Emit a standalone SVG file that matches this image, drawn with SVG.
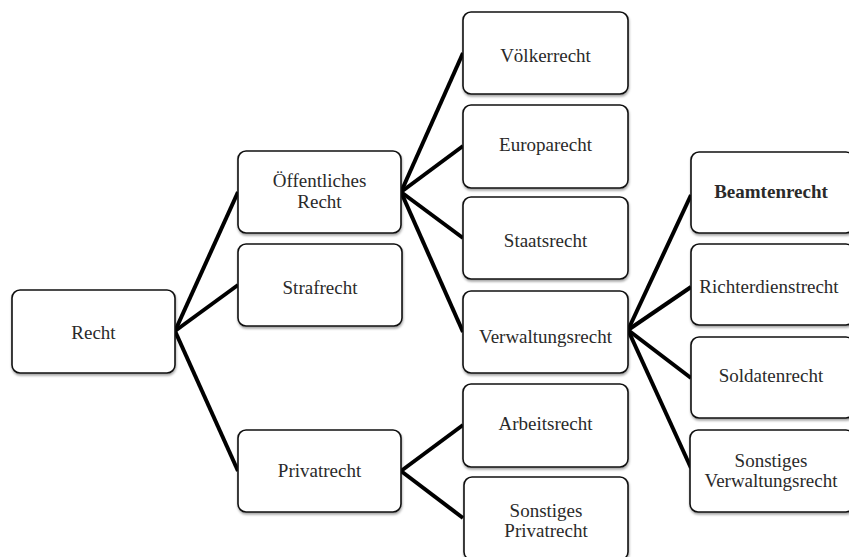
<svg xmlns="http://www.w3.org/2000/svg" width="849" height="557" viewBox="0 0 849 557">
<style>
.box{fill:#fff;stroke:#111;stroke-width:1.6;filter:url(#sh)}
.t{font-family:"Liberation Serif","Times New Roman",serif;font-size:19px;fill:#2a2a2a;text-anchor:middle}
.b{font-weight:bold}
.c line{stroke:#000;stroke-width:4;stroke-linecap:butt}
</style>
<defs>
<filter id="sh" x="-10%" y="-10%" width="120%" height="130%">
<feDropShadow dx="0.5" dy="2" stdDeviation="1.2" flood-color="#000" flood-opacity="0.35"/>
</filter>
</defs>
<rect width="849" height="557" fill="#fff"/>
<g class="c" id="connectors">
<line x1="175" y1="331" x2="238" y2="192"/>
<line x1="175" y1="331" x2="238" y2="285"/>
<line x1="175" y1="331" x2="238" y2="471"/>
<line x1="401" y1="192" x2="463" y2="53"/>
<line x1="401" y1="192" x2="463" y2="146"/>
<line x1="401" y1="192" x2="463" y2="238"/>
<line x1="401" y1="192" x2="463" y2="332"/>
<line x1="401" y1="471" x2="463" y2="425"/>
<line x1="401" y1="471" x2="463" y2="518"/>
<line x1="628" y1="330" x2="691" y2="195"/>
<line x1="628" y1="330" x2="691" y2="287"/>
<line x1="628" y1="330" x2="691" y2="378"/>
<line x1="628" y1="330" x2="691" y2="468"/>
</g>
<g id="recht"><rect class="box" x="12" y="290" width="163" height="83" rx="8"/><text class="t" x="93.5" y="339">Recht</text></g>
<g id="oeffentliches"><rect class="box" x="238" y="151" width="163" height="82" rx="8"/><text class="t" x="319.5" y="187">Öffentliches</text><text class="t" x="319.5" y="208">Recht</text></g>
<g id="strafrecht"><rect class="box" x="238" y="244" width="164" height="82" rx="8"/><text class="t" x="320" y="294">Strafrecht</text></g>
<g id="privatrecht"><rect class="box" x="238" y="430" width="163" height="82" rx="8"/><text class="t" x="319.5" y="477">Privatrecht</text></g>
<g id="voelkerrecht"><rect class="box" x="463" y="12" width="165" height="82" rx="8"/><text class="t" x="545.5" y="62">Völkerrecht</text></g>
<g id="europarecht"><rect class="box" x="463" y="105" width="165" height="83" rx="8"/><text class="t" x="545.5" y="151">Europarecht</text></g>
<g id="staatsrecht"><rect class="box" x="463" y="197" width="165" height="82" rx="8"/><text class="t" x="545.5" y="247">Staatsrecht</text></g>
<g id="verwaltungsrecht"><rect class="box" x="463" y="291" width="165" height="82" rx="8"/><text class="t" x="545.5" y="343">Verwaltungsrecht</text></g>
<g id="arbeitsrecht"><rect class="box" x="463" y="384" width="165" height="83" rx="8"/><text class="t" x="545.5" y="430">Arbeitsrecht</text></g>
<g id="sonstiges-privatrecht"><rect class="box" x="464" y="477" width="164" height="83" rx="8"/><text class="t" x="546" y="517">Sonstiges</text><text class="t" x="546" y="537">Privatrecht</text></g>
<g id="beamtenrecht"><rect class="box" x="691" y="152" width="163" height="81" rx="8"/><text class="t b" x="771" y="198">Beamtenrecht</text></g>
<g id="richterdienstrecht"><rect class="box" x="691" y="244" width="163" height="81" rx="8"/><text class="t" x="769" y="293">Richterdienstrecht</text></g>
<g id="soldatenrecht"><rect class="box" x="691" y="337" width="163" height="81" rx="8"/><text class="t" x="771" y="382">Soldatenrecht</text></g>
<g id="sonstiges-verwaltungsrecht"><rect class="box" x="690" y="430" width="164" height="82" rx="8"/><text class="t" x="771" y="467">Sonstiges</text><text class="t" x="771" y="487">Verwaltungsrecht</text></g>
</svg>
